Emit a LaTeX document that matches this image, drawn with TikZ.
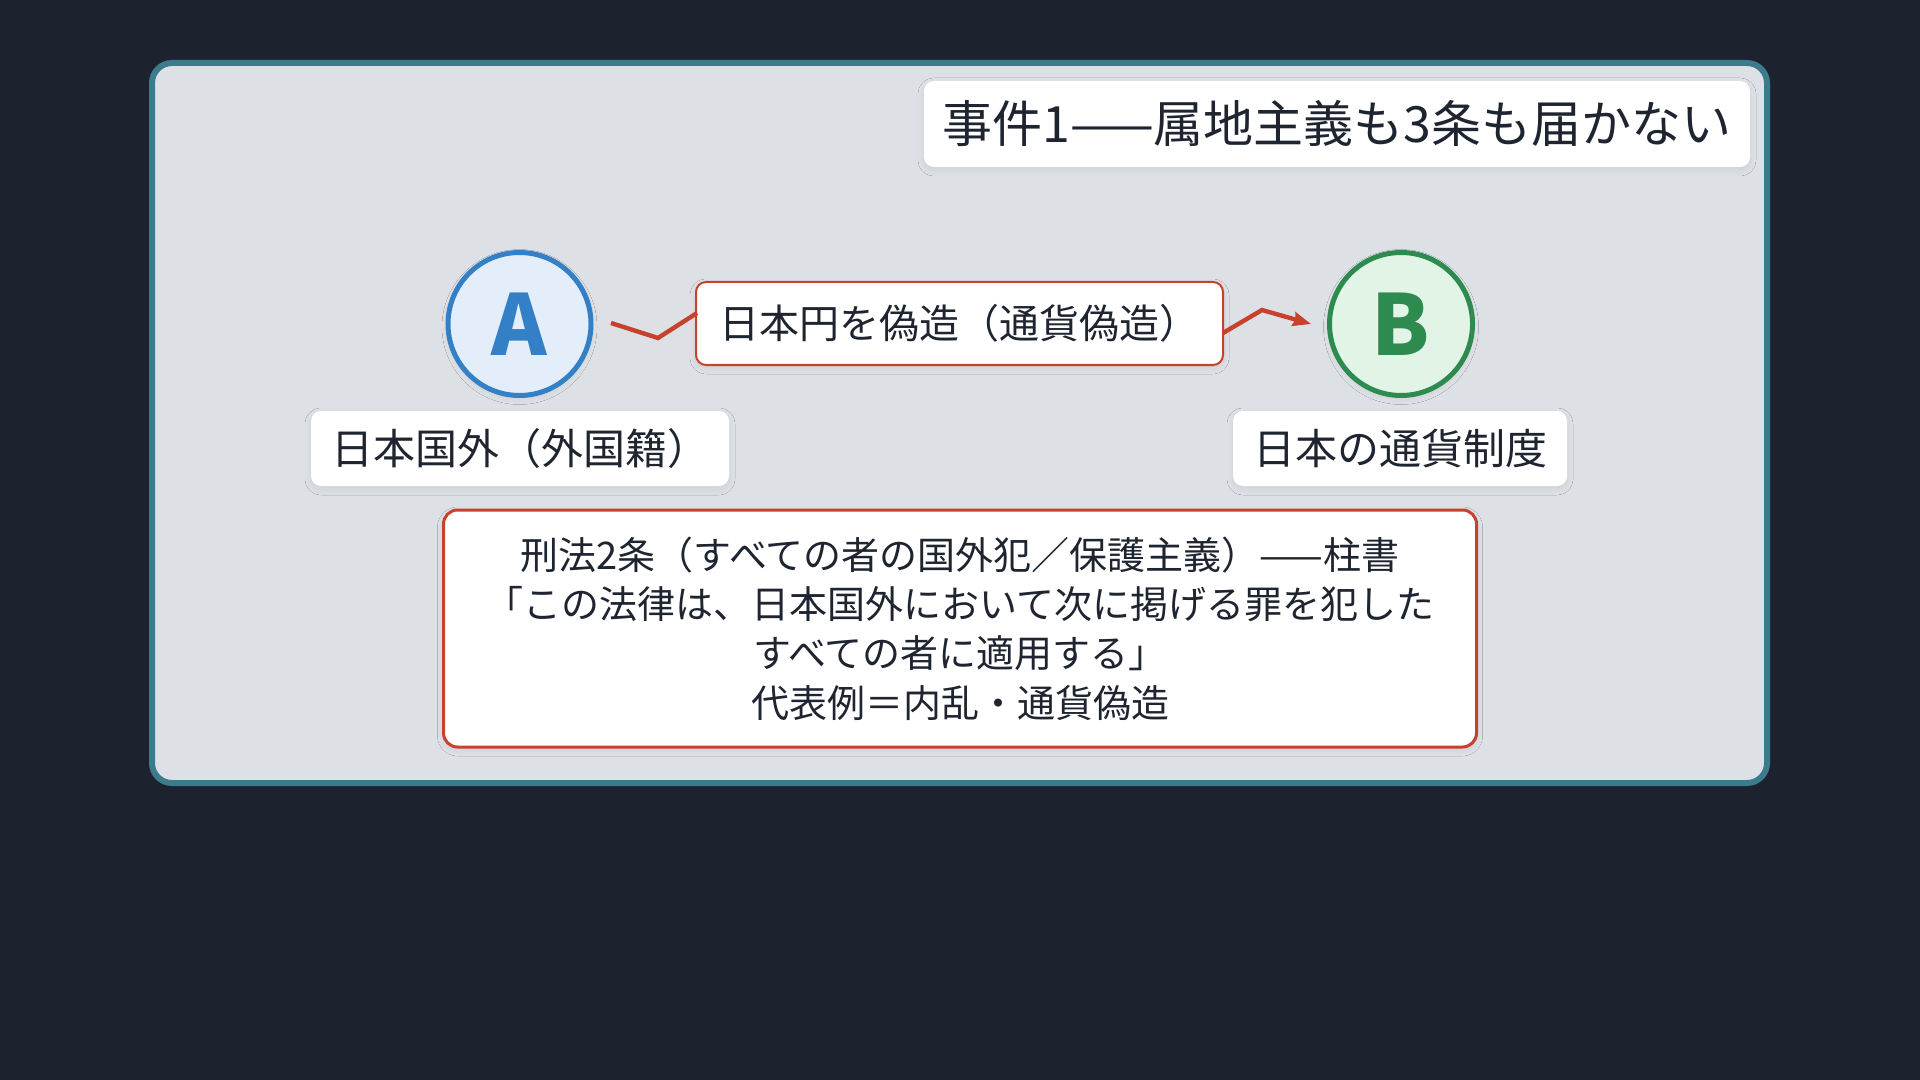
\documentclass[tikz,border=0pt]{standalone}
\usepackage{fontspec}
\setmainfont{Noto Sans CJK JP}
\usetikzlibrary{arrows.meta,shadows.blur}
\definecolor{bgdark}{HTML}{1C232E}
\definecolor{panelfill}{HTML}{DDE0E5}
\definecolor{panelline}{HTML}{3B7B8B}
\definecolor{txt}{HTML}{1E2530}
\definecolor{redline}{HTML}{C8412C}
\definecolor{bluel}{HTML}{3380C6}
\definecolor{bluef}{HTML}{E3EEFA}
\definecolor{greenl}{HTML}{2E8B4F}
\definecolor{greenf}{HTML}{E2F4E6}
\tikzset{
  softshadow/.style={blur shadow={shadow xshift=0pt,shadow yshift=-1.5pt,shadow blur radius=3pt,shadow opacity=7}},
  whitebox/.style={rectangle,rounded corners=5pt,fill=white,text=txt,inner sep=0pt,softshadow},
  redbox/.style={whitebox,draw=redline,line width=1.2pt},
  entity/.style={circle,minimum size=71.5pt,inner sep=0pt,line width=2.5pt,softshadow,font=\fontsize{42pt}{46pt}\bfseries\selectfont},
  conn/.style={draw=redline,line width=2.2pt},
}
\begin{document}
\begin{tikzpicture}[x=0.5pt,y=-0.5pt]
\useasboundingbox (0,0) rectangle (1920,1080);
\fill[bgdark] (0,0) rectangle (1920,1080);
% panel
\draw[panelline,fill=panelfill,line width=3pt,rounded corners=10pt] (152,63) rectangle (1767,783);
% title
\node[whitebox,minimum width=413pt,minimum height=43pt,font=\fontsize{25pt}{28pt}\selectfont] (title) at (1337,124) {事件1——属地主義も3条も届かない};
% entities
\node[entity,draw=bluel,fill=bluef,text=bluel] (A) at (519.5,324) {A};
\node[entity,draw=greenl,fill=greenf,text=greenl] (B) at (1401,324) {B};
% edge label
\node[redbox,line width=1pt,minimum width=263.5pt,minimum height=41.5pt,font=\fontsize{20pt}{24pt}\selectfont] (act) at (959.5,323.5) {日本円を偽造（通貨偽造）};
% entity labels
\node[whitebox,minimum width=209pt,minimum height=37.5pt,font=\fontsize{21pt}{24pt}\selectfont] (la) at (520,448.5) {日本国外（外国籍）};
\node[whitebox,minimum width=167pt,minimum height=37.5pt,font=\fontsize{21pt}{24pt}\selectfont] (lb) at (1400,448.5) {日本の通貨制度};
% connectors
\coordinate (s1) at (611,323);
\coordinate (c1) at (658,338);
\coordinate (c2) at (697,313);
\coordinate (c3) at (1223,333);
\coordinate (c4) at (1262,310);
\coordinate (t1) at (1311,324);
\draw[conn,line join=miter] (s1) -- (c1) -- (c2);
\draw[conn,line join=miter,-{Stealth[length=9pt,width=7pt,inset=1pt]}] (c3) -- (c4) -- (t1);
% law box
\node[redbox,line width=1.5pt,rounded corners=7pt,minimum width=516.5pt,minimum height=118.5pt,align=center,font=\fontsize{19pt}{24.7pt}\selectfont] (law) at (960,628.5)
{刑法2条（すべての者の国外犯／保護主義）——柱書\\「この法律は、日本国外において次に掲げる罪を犯した\\すべての者に適用する」\\代表例＝内乱・通貨偽造};
\end{tikzpicture}
\end{document}
